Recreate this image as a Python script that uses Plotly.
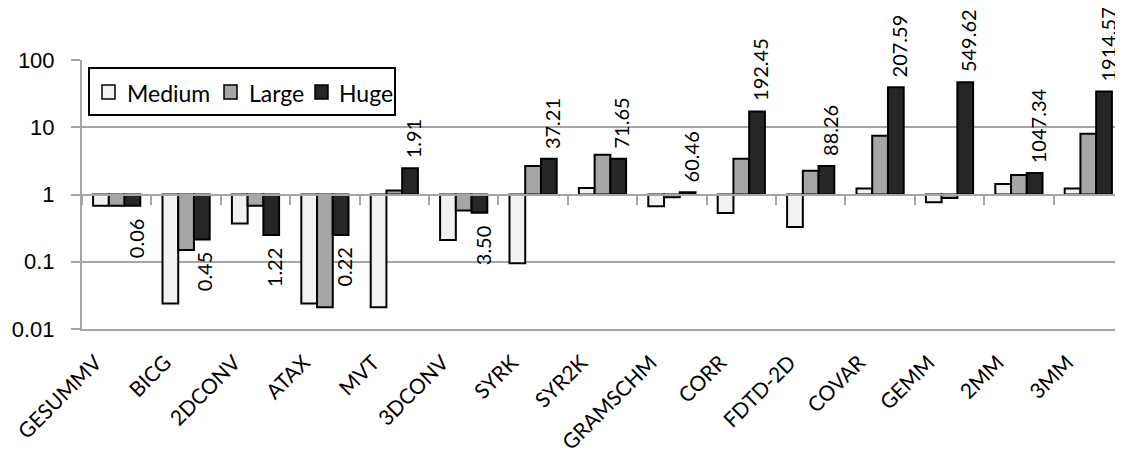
import math
import plotly.graph_objects as go

categories = ["GESUMMV", "BICG", "2DCONV", "ATAX", "MVT", "3DCONV", "SYRK", "SYR2K",
              "GRAMSCHM", "CORR", "FDTD-2D", "COVAR", "GEMM", "2MM", "3MM"]
medium = [0.68, 0.024, 0.37, 0.024, 0.021, 0.21, 0.095, 1.25, 0.67, 0.53, 0.33, 1.23, 0.77, 1.43, 1.23]
large = [0.68, 0.15, 0.68, 0.021, 1.15, 0.58, 2.65, 3.9, 0.91, 3.4, 2.25, 7.5, 0.89, 1.95, 8.0]
huge = [0.68, 0.215, 0.25, 0.25, 2.45, 0.535, 3.4, 3.4, 1.08, 17.2, 2.65, 39.5, 46.5, 2.08, 34.0]
labels = ["0.06", "0.45", "1.22", "0.22", "1.91", "3.50", "37.21", "71.65", "60.46",
          "192.45", "88.26", "207.59", "549.62", "1047.34", "1914.57"]
series_names = ["Medium", "Large", "Huge"]
series_colors = ["#f2f2f2", "#a6a6a6", "#262626"]
y_ticks = [0.01, 0.1, 1, 10, 100]
y_tick_text = ["0.01", "0.1", "1", "10", "100"]

BASE = 1.0
GRID = "#a6a6a6"
LATO = "Lato"

# figure geometry (page body adds an 8px margin)
W, H = 1115, 448
ML, MR, MT, MB = 74, 0, 52, 127
PW, PH = W - ML - MR, H - MT - MB


def px_x(p):
    return (p - ML) / PW


def px_y(p):
    return (H - MB - p) / PH


fig = go.Figure()
for name, vals, col in zip(series_names, [medium, large, huge], series_colors):
    fig.add_trace(go.Bar(
        name=name, x=categories, y=[v - BASE for v in vals], base=BASE,
        marker=dict(color=col, line=dict(color="black", width=2)),
        hoverinfo="skip", showlegend=False,
    ))

# dummy trace to carry the categories on the axis drawn at y = 1
fig.add_trace(go.Scatter(x=categories, y=[BASE] * len(categories), xaxis="x2", mode="markers",
                         marker=dict(opacity=0), showlegend=False, hoverinfo="skip"))

bargap = 0.32
w = (1 - bargap) / 3
annotations = []
for i, (v, t) in enumerate(zip(huge, labels)):
    up = v >= BASE
    annotations.append(dict(
        x=i + w, y=math.log10(v), xref="x", yref="y", text=t, showarrow=False, textangle=-90,
        xanchor="center", yanchor="bottom" if up else "top", borderpad=0,
        yshift=9 if up else -11, xshift=3,
        font=dict(family=LATO, size=20, color="black"),
    ))

# legend box drawn by hand to match the compact Excel legend
shapes = [dict(type="rect", xref="paper", yref="paper",
               x0=px_x(81), x1=px_x(387), y0=px_y(107), y1=px_y(60),
               fillcolor="white", line=dict(color="black", width=2), layer="above")]
swatch_x = [94, 216, 307]
text_x = [117, 239, 329]
for sx, tx, name, col in zip(swatch_x, text_x, series_names, series_colors):
    shapes.append(dict(type="rect", xref="paper", yref="paper",
                       x0=px_x(sx), x1=px_x(sx + 13), y0=px_y(91), y1=px_y(77),
                       fillcolor=col, line=dict(color="black", width=1.5), layer="above"))
    annotations.append(dict(x=px_x(tx), y=px_y(84.5), xref="paper", yref="paper", text=name,
                            showarrow=False, xanchor="left", yanchor="middle",
                            font=dict(family=LATO, size=23, color="black")))

n = len(categories)
fig.update_layout(
    width=W, height=H,
    margin=dict(l=ML, r=MR, t=MT, b=MB, autoexpand=False),
    paper_bgcolor="white", plot_bgcolor="white",
    barmode="group", bargap=bargap, bargroupgap=0,
    showlegend=False,
    xaxis=dict(type="category", range=[-0.5, n - 0.5], tickangle=-45, automargin=False,
               tickfont=dict(family=LATO, size=21, color="black"),
               ticks="outside", ticklen=11, tickcolor="rgba(0,0,0,0)", ticklabelshift=-21,
               showgrid=False, showline=True, linecolor=GRID, linewidth=2),
    xaxis2=dict(type="category", range=[-0.5, n - 0.5], overlaying="x", anchor="free",
                position=0.5, side="bottom", ticks="outside", tickson="boundaries",
                ticklen=9, tickwidth=2, tickcolor=GRID, showticklabels=False, automargin=False,
                showline=True, linecolor=GRID, linewidth=2, showgrid=False),
    yaxis=dict(type="log", range=[-2, 2], tickvals=y_ticks, ticktext=y_tick_text, automargin=False,
               tickfont=dict(family="Liberation Sans", size=22, color="black"),
               showgrid=True, gridcolor=GRID, gridwidth=2, ticklabelstandoff=12,
               showline=True, linecolor=GRID, linewidth=2,
               ticks="outside", ticklen=9, tickwidth=2, tickcolor=GRID, zeroline=False),
    annotations=annotations,
    shapes=shapes,
)

fig.write_html("out.html")
